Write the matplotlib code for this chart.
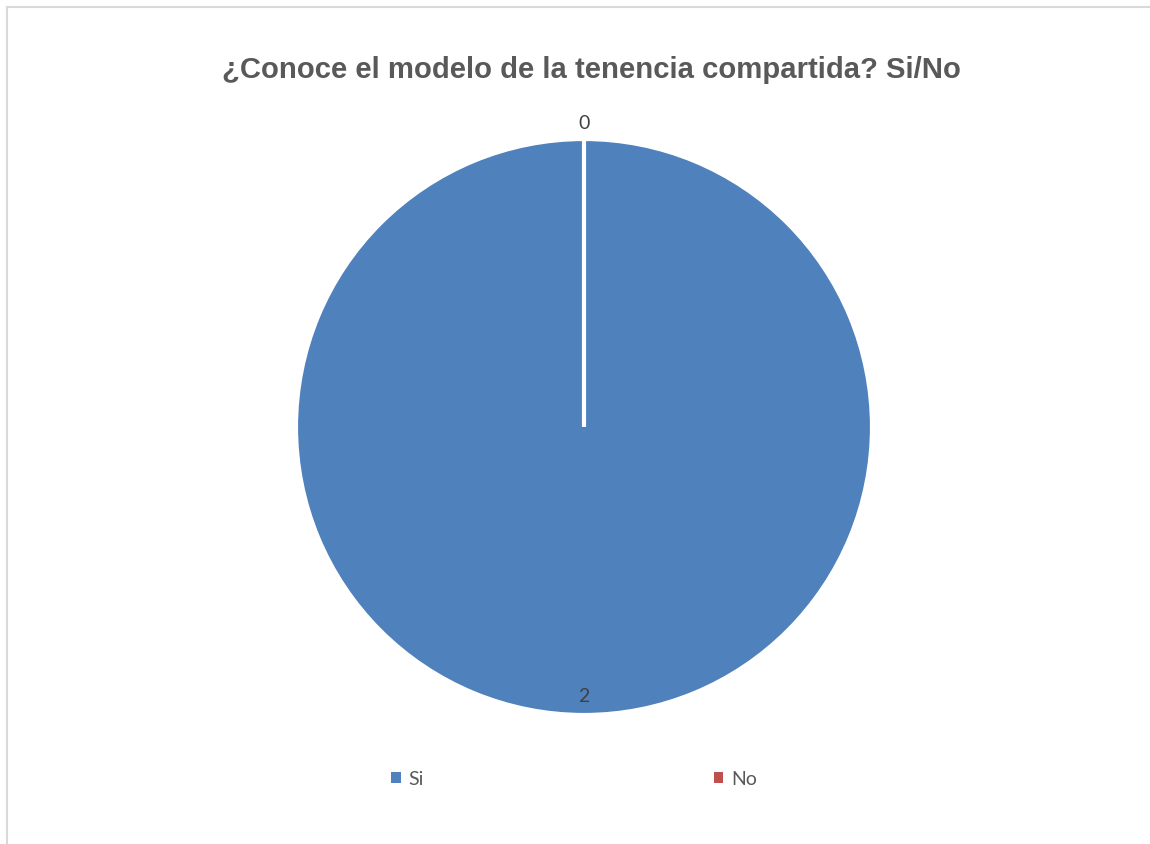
import matplotlib
matplotlib.use("Agg")
import matplotlib.pyplot as plt
from matplotlib.lines import Line2D
from matplotlib.patches import Patch
import numpy as np

categories = ["Si", "No"]
values = [2, 0]
colors = ["#4F81BD", "#C0504D"]
title = "¿Conoce el modelo de la tenencia compartida? Si/No"

W, H = 1150, 845
fig = plt.figure(figsize=(W / 100, H / 100), dpi=100)
fig.patch.set_facecolor("white")

# outer chart frame (only top and left visible)
fig.add_artist(Line2D([7 / W, 1.0], [1 - 8 / H, 1 - 8 / H], transform=fig.transFigure,
                      color="#d9d9d9", lw=1.5))
fig.add_artist(Line2D([7 / W, 7 / W], [0.0, 1 - 8 / H], transform=fig.transFigure,
                      color="#d9d9d9", lw=1.5))

cx, cy, r = 584, 428, 288
ax = fig.add_axes([(cx - r) / W, (H - cy - r) / H, 2 * r / W, 2 * r / H])
wedges, _ = ax.pie(values, colors=colors, startangle=90, counterclock=False,
                   radius=1.0, wedgeprops=dict(edgecolor="white", linewidth=3))
ax.set_xlim(-1, 1)
ax.set_ylim(-1, 1)
ax.set_aspect("equal")
ax.axis("off")

# data labels
for w, v in zip(wedges, values):
    mid = np.deg2rad((w.theta1 + w.theta2) / 2)
    rr = 0.932 if v > 0 else 1.058
    ax.text(rr * np.cos(mid), rr * np.sin(mid), str(v), ha="center", va="center",
            fontsize=14, color="#404040", family="Lato")

fig.text(591 / W, 1 - 70 / H, title, ha="center", va="center", fontsize=21.1,
         fontweight="bold", color="#595959", family="Liberation Sans")

handles = [Patch(facecolor=c, edgecolor="none") for c in colors]
leg = fig.legend(handles, categories, loc="center", bbox_to_anchor=(574 / W, 1 - 780 / H),
                 ncol=2, frameon=False, handlelength=0.5, handleheight=0.5,
                 handletextpad=0.4, columnspacing=14.9,
                 prop=dict(family="Lato", size=14))
for t in leg.get_texts():
    t.set_color("#595959")

fig.savefig("out.png", dpi=100)
